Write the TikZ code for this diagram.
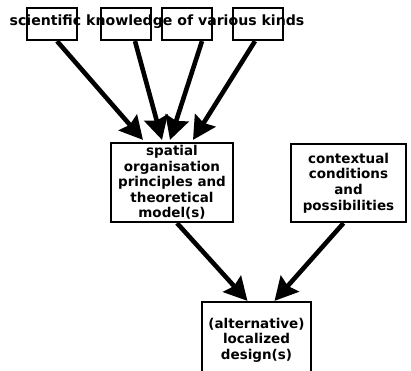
\documentclass[tikz,border=0pt]{standalone}
\usepackage{fontspec}
\setmainfont{DejaVu Sans}
\usetikzlibrary{arrows.meta}

\begin{document}
\begin{tikzpicture}[x=1pt, y=-1pt,
        box/.style={draw, line width=2.2pt, inner sep=0pt, align=center,
            font=\fontsize{13.5}{15.6}\selectfont\bfseries},
        flow/.style={line width=4.6pt, -{Stealth[length=23pt, width=24pt, inset=3pt]}}]
    \useasboundingbox (0,0) rectangle (411,370);

    % four source boxes, the label runs across them
    \node[box, minimum width=50pt, minimum height=32pt] (src1) at (52,24) {};
    \node[box, minimum width=50pt, minimum height=32pt] (src2) at (126,24) {};
    \node[box, minimum width=50pt, minimum height=32pt] (src3) at (187,24) {};
    \node[box, minimum width=50pt, minimum height=32pt] (src4) at (258,24) {};
    \node[font=\fontsize{14.1}{16}\selectfont\bfseries] (science) at (157,22) {scientific knowledge of various kinds};

    \node[box, minimum width=122pt, minimum height=79pt] (principles) at (172,182.5)
        {spatial\\organisation\\principles and\\theoretical\\model(s)};
    \node[box, minimum width=115pt, minimum height=78pt] (context) at (348.5,183)
        {contextual\\conditions\\and\\possibilities};
    \node[box, minimum width=109pt, minimum height=76pt] (design) at (256.5,340)
        {(alternative)\\localized\\design(s)};

    \draw[flow] ([xshift=5pt]src1.south) -- ([xshift=-29pt, yshift=2pt]principles.north);
    \draw[flow] ([xshift=9pt]src2.south) -- ([xshift=-10pt, yshift=2pt]principles.north);
    \draw[flow] ([xshift=15pt]src3.south) -- ([xshift=-2pt, yshift=2pt]principles.north);
    \draw[flow] ([xshift=-3pt]src4.south) -- ([xshift=21pt, yshift=2pt]principles.north);

    \draw[flow] ([xshift=5pt]principles.south) -- ([xshift=-9pt]design.north);
    \draw[flow] ([xshift=-5pt]context.south) -- ([xshift=18pt]design.north);
\end{tikzpicture}
\end{document}
